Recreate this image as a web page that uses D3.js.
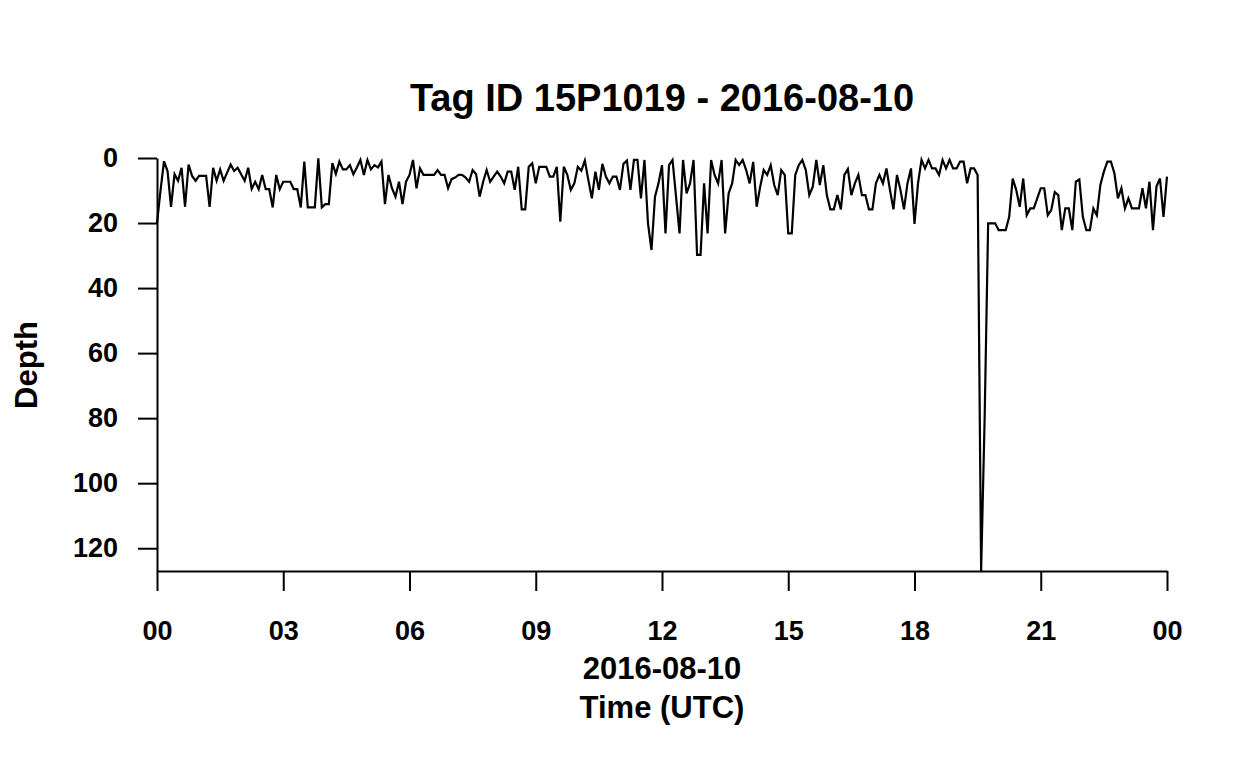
<!DOCTYPE html>
<html>
<head>
<meta charset="utf-8">
<script src="https://cdn.jsdelivr.net/npm/d3@7"></script>
<style>
  html, body { margin: 0; padding: 0; background: #fff; }
  svg { display: block; }
  text { font-family: "Liberation Sans", Arial, Helvetica, sans-serif; font-weight: bold; fill: #000; }
</style>
</head>
<body>
<svg id="chart" width="1248" height="768"></svg>
<script>
// ---- data ----
const chartTitle = "Tag ID 15P1019 - 2016-08-10";
const xTitleDate = "2016-08-10";
const xTitle = "Time (UTC)";
const yTitle = "Depth";
const startUTC = Date.UTC(2016, 7, 10, 0, 0, 0);
const sampleMinutes = 5;
const depth = [
  20, 10, 1, 4, 15, 5, 7, 3, 15, 2,
  5.5, 7, 5.5, 5.5, 5.5, 15, 3, 7, 3.5, 7,
  4.5, 2, 4, 3, 5, 7, 3, 9.5, 7.3, 9.6,
  5.2, 9.6, 9.6, 15.2, 5.2, 9.6, 7.3, 7.3, 7.3, 9.6,
  9.6, 15.2, 1.1, 15.2, 15.2, 15.2, 0.1, 15.2, 14.2, 14.2,
  1.6, 4.9, 1.1, 3.5, 3.5, 2.2, 5, 2.9, 0.6, 5.2,
  0.6, 3.5, 2.2, 2.9, 1.1, 14.2, 5.2, 9.3, 11.9, 7.3,
  14.2, 7.3, 5.2, 0.6, 9.3, 3.2, 5.2, 5.2, 5.2, 5.2,
  3.7, 5.2, 5.2, 9.3, 6.5, 6, 5.2, 5.2, 6, 7.3,
  3.7, 5, 11.9, 7.3, 3.7, 7.3, 5.7, 4.2, 5.7, 7.8,
  4.2, 4.2, 9.8, 2.7, 15.8, 15.8, 2.7, 1.6, 7.8, 2.7,
  2.7, 2.7, 5.7, 5.7, 2.7, 19.6, 2.7, 5.2, 9.8, 7.8,
  2.7, 3.9, 0.8, 6.8, 12.4, 4.2, 9.8, 1.8, 5.7, 7.8,
  5.7, 5.7, 9.8, 1.8, 0.8, 9.8, 0.6, 0.6, 12.4, 0.6,
  20, 28.3, 11.9, 7.8, 2.2, 23.2, 2.2, 0.6, 11.9, 23.2,
  0.6, 10.9, 7.8, 0.6, 29.8, 29.8, 7.8, 23.2, 0.6, 5.2,
  7.8, 0.6, 23.2, 10.9, 7.8, 0.6, 2.2, 0.6, 3.7, 7.8,
  1.2, 15, 8.8, 3.7, 5.2, 2.2, 8.3, 11.4, 3.7, 5.2,
  23.2, 23.2, 5.2, 2.2, 0.6, 3.7, 11.4, 8.8, 0.6, 8.3,
  2.2, 11.4, 15.8, 15.8, 11.4, 15.8, 5.2, 3.4, 11.4, 7.8,
  5.2, 11.4, 11.4, 15.8, 15.8, 7.8, 5.2, 7.8, 3.2, 9.8,
  15.8, 5.2, 9.8, 15.8, 7.8, 3.2, 20.3, 7.8, 0.6, 3.2,
  0.6, 3.2, 3.2, 5.2, 0.6, 3.2, 0.6, 3.2, 3.2, 1.1,
  1.1, 7.8, 3.2, 3.2, 5.2, 127, 80, 20.1, 20.1, 20.1,
  22.2, 22.2, 22.2, 18.1, 6.3, 9.8, 15, 6.3, 17.6, 15.5,
  15.5, 12.4, 9.3, 9.3, 17.6, 16, 10.5, 11.4, 22.2, 15.5,
  15.5, 22.2, 7.3, 6.6, 18.1, 22.2, 22.2, 15.5, 17.6, 8.3,
  4.2, 1.1, 1.1, 4.7, 12.4, 9.3, 15.5, 12.4, 15.5, 15.5,
  15.5, 9.3, 15.5, 7.3, 22.2, 8.8, 6.3, 18.1, 5.7
];
const xTickHours = [0, 3, 6, 9, 12, 15, 18, 21, 24];
const xTickLabels = ["00", "03", "06", "09", "12", "15", "18", "21", "00"];
const yTicks = [0, 20, 40, 60, 80, 100, 120];
const yDomain = [0, 127];

// ---- chart ----
const svg = d3.select("#chart");
const HOUR = 3600 * 1000;
const points = depth.map((d, i) => ({ t: new Date(startUTC + i * sampleMinutes * 60000), d }));

const x = d3.scaleUtc()
  .domain([new Date(startUTC), new Date(startUTC + 24 * HOUR)])
  .range([157, 1167]);
const y = d3.scaleLinear().domain(yDomain).range([158, 571]);

const tickDates = xTickHours.map(h => new Date(startUTC + h * HOUR));

const xAxis = svg.append("g")
  .attr("transform", "translate(0,571)")
  .call(d3.axisBottom(x).tickValues(tickDates)
    .tickFormat((d, i) => xTickLabels[i])
    .tickSize(20).tickSizeOuter(0).tickPadding(30));

const yAxis = svg.append("g")
  .attr("transform", "translate(157,0)")
  .call(d3.axisLeft(y).tickValues(yTicks)
    .tickSize(19).tickSizeOuter(0).tickPadding(20));

[xAxis, yAxis].forEach(g => {
  g.selectAll("path.domain").attr("stroke", "#000").attr("stroke-width", 2);
  g.selectAll(".tick line").attr("stroke", "#000").attr("stroke-width", 2);
  g.selectAll(".tick text")
    .style("font-family", "'Liberation Sans', Arial, Helvetica, sans-serif")
    .style("font-weight", "bold")
    .style("font-size", "27px")
    .attr("fill", "#000");
});

const line = d3.line().x(p => x(p.t)).y(p => y(p.d));
svg.append("path")
  .datum(points)
  .attr("d", line)
  .attr("fill", "none")
  .attr("stroke", "#000")
  .attr("stroke-width", 2.2)
  .attr("stroke-linejoin", "miter");

svg.append("text")
  .attr("x", 662).attr("y", 111)
  .attr("text-anchor", "middle")
  .style("font-size", "38px")
  .text(chartTitle);

svg.append("text")
  .attr("x", 662).attr("y", 679)
  .attr("text-anchor", "middle")
  .style("font-size", "31px")
  .text(xTitleDate);

svg.append("text")
  .attr("x", 662).attr("y", 718)
  .attr("text-anchor", "middle")
  .style("font-size", "31px")
  .text(xTitle);

svg.append("text")
  .attr("transform", "translate(37,365) rotate(-90)")
  .attr("text-anchor", "middle")
  .style("font-size", "31px")
  .text(yTitle);
</script>
</body>
</html>
